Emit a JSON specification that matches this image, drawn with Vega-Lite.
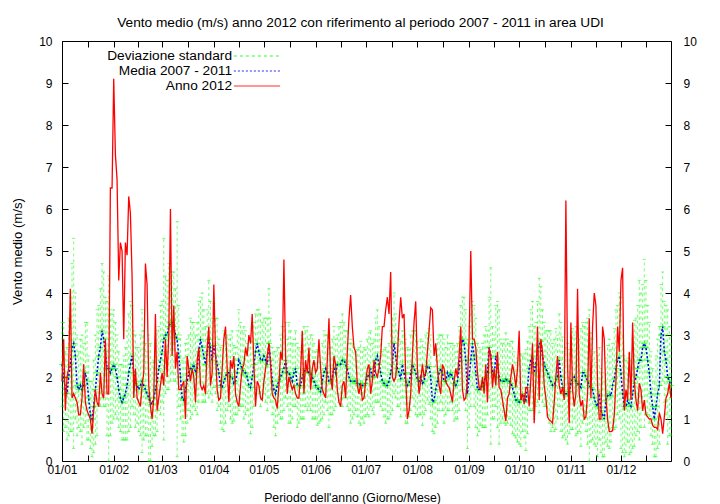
{
"$schema": "https://vega.github.io/schema/vega-lite/v6.json",
"width": 609, "height": 420,
"autosize": "none",
"padding": {"left": 62, "top": 41, "right": 49, "bottom": 43},
"background": "white",
"title": {"text": "Vento medio (m/s) anno 2012 con riferimento al periodo 2007 - 2011 in area UDI", "font": "Liberation Sans", "fontSize": 13.7, "fontWeight": "normal", "color": "black", "offset": 5, "dx": -6, "anchor": "middle", "frame": "group"},
"config": {
  "view": {"stroke": "black", "strokeWidth": 1},
  "font": "Liberation Sans",
  "axis": {"grid": false, "domain": false, "tickColor": "black", "tickSize": 6, "tickWidth": 1, "labelFont": "Liberation Sans", "labelFontSize": 12, "labelColor": "black", "titleFont": "Liberation Sans", "titleFontSize": 12.3, "titleFontWeight": "normal", "titleColor": "black", "labelFlush": false, "labelOverlap": false},
  "legend": {"orient": "none", "legendX": 187, "legendY": 7, "symbolType": "M-3.3,0L3.3,0", "symbolSize": 196, "symbolStrokeWidth": 1.3, "symbolFillColor": "transparent", "labelAlign": "right", "labelOffset": -33, "labelFont": "Liberation Sans", "labelFontSize": 13.7, "labelColor": "black", "rowPadding": -1.5, "padding": 0, "labelLimit": 300}
},
"data": {"values": [
{"d":1,"m":2.3,"s":1.0,"v":1.9},
{"d":2,"m":2.0,"s":1.3,"v":2.9},
{"d":3,"m":1.7,"s":0.9,"v":1.2},
{"d":4,"m":1.6,"s":1.1,"v":2.0},
{"d":5,"m":2.0,"s":1.4,"v":2.2},
{"d":6,"m":2.3,"s":1.6,"v":4.1},
{"d":7,"m":2.7,"s":2.0,"v":1.5},
{"d":8,"m":2.8,"s":2.5,"v":1.6},
{"d":9,"m":2.5,"s":1.5,"v":1.5},
{"d":10,"m":1.8,"s":1.2,"v":1.4},
{"d":11,"m":1.7,"s":0.9,"v":1.1},
{"d":12,"m":1.8,"s":1.1,"v":1.1},
{"d":13,"m":1.7,"s":1.3,"v":1.5},
{"d":14,"m":1.8,"s":1.0,"v":2.3},
{"d":15,"m":2.1,"s":1.2,"v":1.4},
{"d":16,"m":1.9,"s":1.4,"v":1.2},
{"d":17,"m":1.5,"s":1.0,"v":1.1},
{"d":18,"m":1.1,"s":0.8,"v":1.0},
{"d":19,"m":1.0,"s":0.9,"v":0.65},
{"d":20,"m":1.3,"s":1.1,"v":1.2},
{"d":21,"m":1.7,"s":1.3,"v":1.7},
{"d":22,"m":2.1,"s":1.5,"v":1.4},
{"d":23,"m":2.5,"s":1.2,"v":1.3},
{"d":24,"m":2.7,"s":1.4,"v":2.1},
{"d":25,"m":3.1,"s":1.6,"v":1.6},
{"d":26,"m":2.9,"s":1.6,"v":1.5},
{"d":27,"m":2.6,"s":1.3,"v":2.9},
{"d":28,"m":2.2,"s":1.6,"v":1.6},
{"d":29,"m":2.2,"s":2.2,"v":1.6},
{"d":30,"m":2.1,"s":1.5,"v":6.5},
{"d":31,"m":2.2,"s":1.3,"v":6.5},
{"d":32,"m":2.3,"s":1.3,"v":9.1},
{"d":33,"m":2.2,"s":1.1,"v":7.3},
{"d":34,"m":2.0,"s":1.0,"v":6.7},
{"d":35,"m":1.7,"s":0.9,"v":4.3},
{"d":36,"m":1.5,"s":0.8,"v":5.2},
{"d":37,"m":1.4,"s":0.9,"v":5.0},
{"d":38,"m":1.5,"s":1.0,"v":2.9},
{"d":39,"m":1.6,"s":1.1,"v":5.2},
{"d":40,"m":1.8,"s":1.3,"v":4.9},
{"d":41,"m":2.1,"s":1.4,"v":6.3},
{"d":42,"m":2.3,"s":1.5,"v":5.9},
{"d":43,"m":2.5,"s":1.2,"v":4.4},
{"d":44,"m":2.1,"s":1.0,"v":1.5},
{"d":45,"m":1.9,"s":1.1,"v":2.2},
{"d":46,"m":1.8,"s":0.9,"v":1.5},
{"d":47,"m":1.7,"s":1.0,"v":1.4},
{"d":48,"m":1.8,"s":1.2,"v":1.3},
{"d":49,"m":1.9,"s":1.7,"v":1.8},
{"d":50,"m":1.8,"s":1.3,"v":2.1},
{"d":51,"m":1.7,"s":1.1,"v":4.7},
{"d":52,"m":1.6,"s":1.0,"v":4.2},
{"d":53,"m":1.5,"s":1.5,"v":1.8},
{"d":54,"m":1.4,"s":1.4,"v":1.3},
{"d":55,"m":1.35,"s":1.0,"v":1.0},
{"d":56,"m":1.5,"s":0.9,"v":1.5},
{"d":57,"m":1.7,"s":1.1,"v":3.5},
{"d":58,"m":1.9,"s":1.2,"v":1.2},
{"d":59,"m":2.2,"s":1.0,"v":1.5},
{"d":60,"m":2.4,"s":1.3,"v":1.8},
{"d":61,"m":2.6,"s":1.2,"v":2.1},
{"d":62,"m":2.9,"s":2.4,"v":1.8},
{"d":63,"m":3.0,"s":1.4,"v":2.9},
{"d":64,"m":3.0,"s":1.3,"v":2.0},
{"d":65,"m":3.2,"s":1.5,"v":3.0},
{"d":66,"m":3.3,"s":1.4,"v":6.0},
{"d":67,"m":3.3,"s":1.2,"v":2.5},
{"d":68,"m":3.2,"s":1.3,"v":3.7},
{"d":69,"m":3.0,"s":1.1,"v":2.2},
{"d":70,"m":2.9,"s":2.8,"v":2.6},
{"d":71,"m":2.5,"s":1.2,"v":1.7},
{"d":72,"m":2.0,"s":1.0,"v":1.7},
{"d":73,"m":1.5,"s":0.9,"v":1.8},
{"d":74,"m":1.45,"s":1.0,"v":1.9},
{"d":75,"m":1.7,"s":1.1,"v":1.0},
{"d":76,"m":1.9,"s":1.0,"v":2.5},
{"d":77,"m":2.1,"s":0.9,"v":2.2},
{"d":78,"m":2.2,"s":1.2,"v":1.9},
{"d":79,"m":2.2,"s":1.1,"v":2.2},
{"d":80,"m":2.3,"s":1.0,"v":2.0},
{"d":81,"m":2.1,"s":0.9,"v":1.4},
{"d":82,"m":2.2,"s":1.1,"v":2.4},
{"d":83,"m":2.6,"s":1.2,"v":2.7},
{"d":84,"m":2.9,"s":1.0,"v":1.8},
{"d":85,"m":2.7,"s":1.3,"v":1.7},
{"d":86,"m":2.5,"s":1.1,"v":1.8},
{"d":87,"m":2.3,"s":0.9,"v":1.6},
{"d":88,"m":2.6,"s":1.0,"v":2.7},
{"d":89,"m":2.9,"s":1.4,"v":3.2},
{"d":90,"m":2.7,"s":1.1,"v":1.8},
{"d":91,"m":2.4,"s":1.0,"v":2.1},
{"d":92,"m":2.75,"s":1.0,"v":4.2},
{"d":93,"m":2.5,"s":0.9,"v":2.6},
{"d":94,"m":2.3,"s":1.1,"v":1.7},
{"d":95,"m":2.1,"s":0.8,"v":1.45},
{"d":96,"m":1.8,"s":0.9,"v":1.5},
{"d":97,"m":1.75,"s":1.0,"v":2.2},
{"d":98,"m":1.9,"s":1.2,"v":2.9},
{"d":99,"m":2.0,"s":1.1,"v":3.2},
{"d":100,"m":2.1,"s":0.9,"v":2.2},
{"d":101,"m":2.1,"s":0.8,"v":1.4},
{"d":102,"m":2.0,"s":1.0,"v":2.4},
{"d":103,"m":2.0,"s":1.1,"v":2.2},
{"d":104,"m":1.85,"s":0.9,"v":2.5},
{"d":105,"m":1.9,"s":0.8,"v":1.6},
{"d":106,"m":2.1,"s":1.0,"v":1.4},
{"d":107,"m":2.4,"s":1.2,"v":1.3},
{"d":108,"m":2.3,"s":1.0,"v":1.8},
{"d":109,"m":2.2,"s":0.9,"v":2.2},
{"d":110,"m":2.1,"s":1.1,"v":2.3},
{"d":111,"m":2.1,"s":1.0,"v":2.7},
{"d":112,"m":2.0,"s":0.8,"v":2.5},
{"d":113,"m":1.8,"s":0.9,"v":3.0},
{"d":114,"m":1.75,"s":1.1,"v":2.8},
{"d":115,"m":2.0,"s":1.2,"v":3.5},
{"d":116,"m":2.3,"s":1.0,"v":2.3},
{"d":117,"m":2.6,"s":0.9,"v":1.3},
{"d":118,"m":2.8,"s":0.8,"v":1.9},
{"d":119,"m":2.6,"s":1.0,"v":1.8},
{"d":120,"m":2.4,"s":1.1,"v":1.5},
{"d":121,"m":2.4,"s":0.9,"v":1.45},
{"d":122,"m":2.5,"s":0.9,"v":1.9},
{"d":123,"m":2.4,"s":1.0,"v":2.2},
{"d":124,"m":2.3,"s":1.1,"v":2.5},
{"d":125,"m":2.8,"s":1.3,"v":2.8},
{"d":126,"m":2.4,"s":1.0,"v":2.3},
{"d":127,"m":1.9,"s":0.8,"v":1.6},
{"d":128,"m":1.7,"s":0.9,"v":1.5},
{"d":129,"m":1.6,"s":1.0,"v":1.45},
{"d":130,"m":1.8,"s":0.9,"v":1.25},
{"d":131,"m":1.9,"s":0.8,"v":1.8},
{"d":132,"m":2.0,"s":1.0,"v":2.6},
{"d":133,"m":2.1,"s":1.1,"v":2.4},
{"d":134,"m":2.2,"s":1.0,"v":4.8},
{"d":135,"m":2.4,"s":0.9,"v":2.5},
{"d":136,"m":2.1,"s":0.8,"v":1.6},
{"d":137,"m":2.1,"s":1.2,"v":2.0},
{"d":138,"m":2.0,"s":1.1,"v":1.85},
{"d":139,"m":1.9,"s":0.9,"v":1.7},
{"d":140,"m":2.1,"s":0.8,"v":1.8},
{"d":141,"m":2.2,"s":0.9,"v":1.6},
{"d":142,"m":1.8,"s":1.0,"v":1.5},
{"d":143,"m":1.8,"s":0.9,"v":1.5},
{"d":144,"m":1.8,"s":0.8,"v":2.1},
{"d":145,"m":2.0,"s":1.0,"v":3.1},
{"d":146,"m":2.1,"s":1.1,"v":1.6},
{"d":147,"m":2.2,"s":0.9,"v":2.4},
{"d":148,"m":2.2,"s":1.0,"v":2.1},
{"d":149,"m":2.1,"s":0.8,"v":2.7},
{"d":150,"m":2.1,"s":0.9,"v":1.7},
{"d":151,"m":2.0,"s":1.0,"v":2.2},
{"d":152,"m":1.9,"s":0.9,"v":2.4},
{"d":153,"m":1.8,"s":0.8,"v":2.1},
{"d":154,"m":1.75,"s":0.9,"v":2.2},
{"d":155,"m":1.7,"s":0.8,"v":2.9},
{"d":156,"m":1.65,"s":0.7,"v":2.2},
{"d":157,"m":1.9,"s":0.9,"v":1.7},
{"d":158,"m":2.1,"s":1.0,"v":1.6},
{"d":159,"m":2.2,"s":0.8,"v":1.5},
{"d":160,"m":2.1,"s":0.9,"v":2.4},
{"d":161,"m":1.9,"s":1.1,"v":3.4},
{"d":162,"m":1.9,"s":0.8,"v":2.0},
{"d":163,"m":2.0,"s":0.9,"v":1.7},
{"d":164,"m":2.2,"s":1.0,"v":2.5},
{"d":165,"m":2.1,"s":0.8,"v":2.3},
{"d":166,"m":2.3,"s":0.7,"v":1.7},
{"d":167,"m":2.3,"s":0.9,"v":1.4},
{"d":168,"m":2.3,"s":1.0,"v":1.3},
{"d":169,"m":2.4,"s":1.1,"v":1.8},
{"d":170,"m":2.4,"s":0.9,"v":1.9},
{"d":171,"m":2.3,"s":0.8,"v":1.5},
{"d":172,"m":2.2,"s":0.9,"v":2.6},
{"d":173,"m":2.0,"s":0.8,"v":3.4},
{"d":174,"m":1.9,"s":1.0,"v":3.95},
{"d":175,"m":1.9,"s":0.9,"v":3.2},
{"d":176,"m":1.9,"s":0.8,"v":2.7},
{"d":177,"m":1.9,"s":0.7,"v":2.6},
{"d":178,"m":1.85,"s":0.8,"v":1.8},
{"d":179,"m":1.8,"s":0.9,"v":1.6},
{"d":180,"m":1.85,"s":1.0,"v":1.85},
{"d":181,"m":1.8,"s":0.8,"v":1.45},
{"d":182,"m":1.8,"s":0.9,"v":1.5},
{"d":183,"m":1.85,"s":0.8,"v":1.9},
{"d":184,"m":2.0,"s":0.9,"v":2.2},
{"d":185,"m":2.05,"s":1.0,"v":2.3},
{"d":186,"m":2.2,"s":0.9,"v":1.6},
{"d":187,"m":2.0,"s":0.8,"v":1.9},
{"d":188,"m":2.0,"s":0.9,"v":2.4},
{"d":189,"m":2.4,"s":1.0,"v":2.1},
{"d":190,"m":2.5,"s":1.1,"v":2.0},
{"d":191,"m":2.3,"s":0.9,"v":2.2},
{"d":192,"m":2.1,"s":0.8,"v":2.5},
{"d":193,"m":1.9,"s":0.7,"v":3.2},
{"d":194,"m":1.85,"s":0.8,"v":3.2},
{"d":195,"m":1.8,"s":0.9,"v":3.6},
{"d":196,"m":1.8,"s":0.8,"v":3.9},
{"d":197,"m":1.9,"s":0.9,"v":3.5},
{"d":198,"m":2.1,"s":1.0,"v":4.5},
{"d":199,"m":2.3,"s":1.1,"v":2.0},
{"d":200,"m":2.8,"s":1.2,"v":1.9},
{"d":201,"m":2.5,"s":1.0,"v":2.0},
{"d":202,"m":2.2,"s":0.9,"v":2.5},
{"d":203,"m":2.1,"s":0.8,"v":3.3},
{"d":204,"m":1.95,"s":0.9,"v":3.9},
{"d":205,"m":2.3,"s":0.8,"v":3.4},
{"d":206,"m":2.1,"s":0.9,"v":3.5},
{"d":207,"m":1.9,"s":1.0,"v":2.0},
{"d":208,"m":1.8,"s":0.9,"v":1.0},
{"d":209,"m":1.85,"s":0.8,"v":1.2},
{"d":210,"m":2.1,"s":0.9,"v":1.6},
{"d":211,"m":2.3,"s":0.8,"v":2.5},
{"d":212,"m":2.2,"s":0.9,"v":3.3},
{"d":213,"m":2.1,"s":1.0,"v":3.8},
{"d":214,"m":1.95,"s":0.9,"v":2.2},
{"d":215,"m":1.9,"s":0.8,"v":1.6},
{"d":216,"m":2.0,"s":0.9,"v":1.9},
{"d":217,"m":1.85,"s":1.0,"v":2.3},
{"d":218,"m":1.9,"s":0.8,"v":2.0},
{"d":219,"m":2.1,"s":0.9,"v":2.1},
{"d":220,"m":2.25,"s":0.8,"v":2.6},
{"d":221,"m":2.25,"s":0.9,"v":3.1},
{"d":222,"m":2.0,"s":1.0,"v":3.65},
{"d":223,"m":1.4,"s":0.7,"v":3.6},
{"d":224,"m":1.45,"s":0.8,"v":2.5},
{"d":225,"m":1.7,"s":0.9,"v":2.8},
{"d":226,"m":1.9,"s":1.0,"v":2.2},
{"d":227,"m":2.1,"s":0.9,"v":1.8},
{"d":228,"m":2.2,"s":0.8,"v":1.6},
{"d":229,"m":2.1,"s":0.9,"v":2.3},
{"d":230,"m":1.9,"s":1.0,"v":2.2},
{"d":231,"m":1.9,"s":0.8,"v":1.9},
{"d":232,"m":2.1,"s":0.9,"v":1.8},
{"d":233,"m":2.0,"s":0.8,"v":1.75},
{"d":234,"m":2.1,"s":0.7,"v":1.6},
{"d":235,"m":2.0,"s":0.8,"v":1.4},
{"d":236,"m":1.85,"s":0.9,"v":1.9},
{"d":237,"m":1.8,"s":0.8,"v":2.2},
{"d":238,"m":1.9,"s":0.9,"v":2.0},
{"d":239,"m":2.2,"s":1.0,"v":2.5},
{"d":240,"m":2.6,"s":1.1,"v":3.2},
{"d":241,"m":2.9,"s":1.0,"v":1.7},
{"d":242,"m":2.8,"s":1.1,"v":1.45},
{"d":243,"m":2.4,"s":1.2,"v":1.5},
{"d":244,"m":1.6,"s":1.3,"v":1.9},
{"d":245,"m":2.0,"s":1.2,"v":2.9},
{"d":246,"m":2.4,"s":1.1,"v":5.0},
{"d":247,"m":2.8,"s":1.0,"v":2.9},
{"d":248,"m":2.5,"s":1.2,"v":2.9},
{"d":249,"m":2.1,"s":1.3,"v":2.7},
{"d":250,"m":1.7,"s":1.1,"v":2.1},
{"d":251,"m":1.7,"s":1.0,"v":1.75},
{"d":252,"m":1.75,"s":0.9,"v":1.7},
{"d":253,"m":1.8,"s":1.0,"v":2.0},
{"d":254,"m":1.9,"s":1.1,"v":1.6},
{"d":255,"m":2.0,"s":1.2,"v":2.3},
{"d":256,"m":2.1,"s":1.0,"v":1.4},
{"d":257,"m":2.7,"s":1.2,"v":2.7},
{"d":258,"m":2.5,"s":2.1,"v":2.5},
{"d":259,"m":2.1,"s":1.1,"v":1.75},
{"d":260,"m":2.0,"s":1.0,"v":2.2},
{"d":261,"m":2.5,"s":1.2,"v":1.8},
{"d":262,"m":2.3,"s":1.5,"v":2.6},
{"d":263,"m":2.0,"s":1.6,"v":1.75},
{"d":264,"m":1.9,"s":1.0,"v":1.7},
{"d":265,"m":1.9,"s":0.9,"v":1.45},
{"d":266,"m":1.9,"s":1.0,"v":1.2},
{"d":267,"m":1.95,"s":1.1,"v":0.95},
{"d":268,"m":1.9,"s":1.0,"v":1.5},
{"d":269,"m":1.9,"s":0.9,"v":1.6},
{"d":270,"m":1.85,"s":1.0,"v":2.0},
{"d":271,"m":1.75,"s":1.1,"v":2.3},
{"d":272,"m":1.6,"s":1.0,"v":2.1},
{"d":273,"m":1.45,"s":0.9,"v":1.75},
{"d":274,"m":1.45,"s":1.0,"v":2.2},
{"d":275,"m":1.4,"s":1.0,"v":3.1},
{"d":276,"m":1.45,"s":1.1,"v":1.45},
{"d":277,"m":1.6,"s":0.9,"v":1.6},
{"d":278,"m":1.55,"s":1.0,"v":1.35},
{"d":279,"m":1.45,"s":1.2,"v":1.75},
{"d":280,"m":1.75,"s":1.1,"v":1.75},
{"d":281,"m":2.2,"s":1.0,"v":1.3},
{"d":282,"m":2.4,"s":1.2,"v":1.95},
{"d":283,"m":2.5,"s":1.3,"v":2.8},
{"d":284,"m":2.1,"s":1.1,"v":0.9},
{"d":285,"m":2.3,"s":1.0,"v":1.9},
{"d":286,"m":2.6,"s":1.2,"v":3.2},
{"d":287,"m":2.75,"s":1.6,"v":1.45},
{"d":288,"m":2.85,"s":1.3,"v":2.9},
{"d":289,"m":2.5,"s":1.1,"v":2.6},
{"d":290,"m":2.3,"s":1.0,"v":1.8},
{"d":291,"m":2.2,"s":0.9,"v":1.5},
{"d":292,"m":2.1,"s":1.0,"v":1.05},
{"d":293,"m":2.0,"s":1.1,"v":0.98},
{"d":294,"m":1.9,"s":1.2,"v":0.95},
{"d":295,"m":1.8,"s":1.0,"v":0.9},
{"d":296,"m":1.8,"s":1.1,"v":1.4},
{"d":297,"m":1.95,"s":1.2,"v":2.0},
{"d":298,"m":2.0,"s":1.0,"v":2.5},
{"d":299,"m":2.4,"s":1.1,"v":1.8},
{"d":300,"m":2.0,"s":1.3,"v":1.6},
{"d":301,"m":1.75,"s":1.2,"v":1.75},
{"d":302,"m":1.6,"s":1.0,"v":1.45},
{"d":303,"m":1.6,"s":1.1,"v":6.2},
{"d":304,"m":1.6,"s":1.2,"v":2.3},
{"d":305,"m":1.65,"s":1.0,"v":0.9},
{"d":306,"m":1.85,"s":1.1,"v":3.3},
{"d":307,"m":1.95,"s":1.2,"v":1.7},
{"d":308,"m":2.0,"s":1.0,"v":1.3},
{"d":309,"m":1.9,"s":1.3,"v":1.6},
{"d":310,"m":1.85,"s":1.2,"v":4.1},
{"d":311,"m":1.8,"s":1.1,"v":1.6},
{"d":312,"m":1.75,"s":1.4,"v":1.3},
{"d":313,"m":2.1,"s":1.2,"v":1.45},
{"d":314,"m":2.1,"s":1.1,"v":1.0},
{"d":315,"m":2.0,"s":1.3,"v":1.05},
{"d":316,"m":1.9,"s":1.5,"v":1.6},
{"d":317,"m":1.8,"s":1.8,"v":3.4},
{"d":318,"m":1.75,"s":1.3,"v":1.5},
{"d":319,"m":1.7,"s":1.2,"v":3.2},
{"d":320,"m":1.5,"s":1.1,"v":4.0},
{"d":321,"m":1.35,"s":1.0,"v":3.7},
{"d":322,"m":1.3,"s":1.2,"v":1.8},
{"d":323,"m":1.6,"s":1.1,"v":1.0},
{"d":324,"m":1.2,"s":1.0,"v":1.0},
{"d":325,"m":1.1,"s":1.0,"v":3.2},
{"d":326,"m":1.0,"s":0.9,"v":2.9},
{"d":327,"m":1.45,"s":1.0,"v":1.5},
{"d":328,"m":1.55,"s":1.2,"v":1.0},
{"d":329,"m":1.6,"s":1.3,"v":0.7},
{"d":330,"m":1.55,"s":1.1,"v":0.7},
{"d":331,"m":1.8,"s":1.0,"v":0.72},
{"d":332,"m":1.95,"s":1.2,"v":1.1},
{"d":333,"m":2.2,"s":1.4,"v":1.9},
{"d":334,"m":2.4,"s":1.3,"v":3.2},
{"d":335,"m":2.5,"s":1.5,"v":2.6},
{"d":336,"m":2.1,"s":1.8,"v":4.3},
{"d":337,"m":1.6,"s":1.4,"v":4.6},
{"d":338,"m":1.3,"s":1.2,"v":1.2},
{"d":339,"m":1.3,"s":1.1,"v":1.7},
{"d":340,"m":1.45,"s":1.0,"v":1.45},
{"d":341,"m":1.35,"s":1.2,"v":2.6},
{"d":342,"m":1.3,"s":1.1,"v":1.45},
{"d":343,"m":1.6,"s":1.3,"v":3.3},
{"d":344,"m":1.85,"s":1.5,"v":1.9},
{"d":345,"m":2.0,"s":1.4,"v":1.45},
{"d":346,"m":2.2,"s":1.5,"v":1.2},
{"d":347,"m":2.4,"s":1.9,"v":1.85},
{"d":348,"m":2.4,"s":1.6,"v":1.7},
{"d":349,"m":2.7,"s":1.5,"v":1.2},
{"d":350,"m":2.8,"s":2.0,"v":1.45},
{"d":351,"m":2.7,"s":1.6,"v":1.1},
{"d":352,"m":2.4,"s":1.3,"v":1.05},
{"d":353,"m":2.1,"s":1.2,"v":1.0},
{"d":354,"m":1.6,"s":1.0,"v":1.0},
{"d":355,"m":1.3,"s":0.9,"v":0.85},
{"d":356,"m":1.0,"s":0.9,"v":0.8},
{"d":357,"m":1.3,"s":1.2,"v":0.8},
{"d":358,"m":1.6,"s":1.3,"v":0.75},
{"d":359,"m":1.8,"s":1.4,"v":1.15},
{"d":360,"m":3.0,"s":1.2,"v":1.0},
{"d":361,"m":3.2,"s":1.3,"v":0.65},
{"d":362,"m":2.6,"s":1.2,"v":1.05},
{"d":363,"m":2.4,"s":1.3,"v":1.5},
{"d":364,"m":2.0,"s":1.6,"v":1.6},
{"d":365,"m":1.9,"s":1.3,"v":1.85},
{"d":366,"m":1.8,"s":1.2,"v":1.5}
]},
"layer": [
  {
    "mark": {"type": "errorbar", "ticks": {"size": 3, "opacity": 0.55}, "rule": {"strokeDash": [3, 3], "strokeWidth": 1, "opacity": 0.55}},
    "encoding": {
      "x": {"field": "d", "type": "quantitative", "scale": {"domain": [1, 366], "nice": false, "zero": false},
        "axis": {"orient": "bottom", "title": "Periodo dell'anno (Giorno/Mese)", "titlePadding": 16, "titleX": 290, "labelPadding": 3, "ticks": false,
          "values": [1,32,61,92,122,153,183,214,245,275,306,336],
          "labelExpr": "datum.value==1?'01/01':datum.value==32?'01/02':datum.value==61?'01/03':datum.value==92?'01/04':datum.value==122?'01/05':datum.value==153?'01/06':datum.value==183?'01/07':datum.value==214?'01/08':datum.value==245?'01/09':datum.value==275?'01/10':datum.value==306?'01/11':'01/12'"}},
      "y": {"field": "m", "type": "quantitative", "scale": {"domain": [0, 10], "nice": false, "zero": true},
        "axis": {"orient": "left", "title": "Vento medio (m/s)", "titleFontSize": 13.2, "values": [0,1,2,3,4,5,6,7,8,9,10], "ticks": false, "labelPadding": 10, "titlePadding": 14}},
      "yError": {"field": "s"},
      "color": {"datum": "Deviazione standard", "scale": {"domain": ["Deviazione standard", "Media 2007 - 2011", "Anno 2012"], "range": ["#00ff00", "#0000ff", "#ff0000"]}, "legend": {"title": null}}
    }
  },
  {
    "mark": {"type": "point", "shape": "M-1,0L1,0M0,-1L0,1", "filled": false, "color": "#00ff00", "size": 36, "strokeWidth": 1, "opacity": 0.7},
    "encoding": {
      "x": {"field": "d", "type": "quantitative", "axis": {"orient": "bottom", "title": null, "labels": false, "offset": -6, "tickSize": 6,
        "values": [1,16.5,32,46.5,61,76.5,92,107,122,137.5,153,168,183,198.5,214,229.5,245,260,275,290.5,306,321,336,351]}},
      "y": {"field": "m", "type": "quantitative", "axis": {"orient": "left", "title": null, "labels": false, "offset": -6, "tickSize": 6, "values": [0,1,2,3,4,5,6,7,8,9,10]}}
    }
  },
  {
    "mark": {"type": "line", "strokeWidth": 1.5},
    "encoding": {
      "x": {"field": "d", "type": "quantitative", "axis": {"orient": "top", "title": null, "labels": false, "offset": -6, "tickSize": 6,
        "values": [1,16.5,32,46.5,61,76.5,92,107,122,137.5,153,168,183,198.5,214,229.5,245,260,275,290.5,306,321,336,351]}},
      "y": {"field": "m", "type": "quantitative", "axis": {"orient": "right", "title": null, "labels": false, "offset": -6, "tickSize": 6, "values": [0,1,2,3,4,5,6,7,8,9,10]}},
      "color": {"datum": "Media 2007 - 2011", "legend": {"title": null}},
      "strokeDash": {"datum": "Media 2007 - 2011", "scale": {"domain": ["Deviazione standard", "Media 2007 - 2011", "Anno 2012"], "range": [[3, 3], [2, 2], [1, 0]]}, "legend": {"title": null}}
    }
  },
  {
    "mark": {"type": "line", "strokeWidth": 1.3},
    "encoding": {
      "x": {"field": "d", "type": "quantitative", "axis": null},
      "y": {"field": "v", "type": "quantitative", "axis": {"orient": "right", "title": null, "ticks": false, "labelPadding": 12, "values": [0,1,2,3,4,5,6,7,8,9,10]}},
      "color": {"datum": "Anno 2012", "legend": {"title": null}},
      "strokeDash": {"datum": "Anno 2012", "legend": {"title": null}}
    }
  }
],
"resolve": {"axis": {"x": "independent", "y": "independent"}}
}
